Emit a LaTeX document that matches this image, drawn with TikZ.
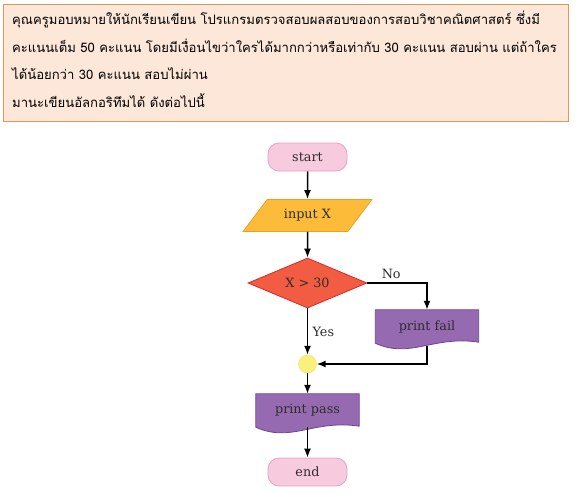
\documentclass[tikz,border=0pt]{standalone}
\usepackage{fontspec}
\setmainfont{DejaVu Serif}
\newfontfamily\thaifont[Script=Thai]{Loma}
\usetikzlibrary{shapes,arrows.meta,positioning,calc,backgrounds}
\usepackage{xcolor}

\definecolor{taskfill}{RGB}{252,231,216}
\definecolor{taskline}{RGB}{226,152,82}
\definecolor{termfill}{RGB}{247,202,222}
\definecolor{termline}{RGB}{232,162,196}
\definecolor{iofill}{RGB}{252,188,58}
\definecolor{ioline}{RGB}{234,160,40}
\definecolor{decfill}{RGB}{241,92,66}
\definecolor{decline}{RGB}{214,42,42}
\definecolor{docfill}{RGB}{150,106,176}
\definecolor{docline}{RGB}{112,66,150}
\definecolor{joinfill}{RGB}{250,240,122}
\definecolor{joinline}{RGB}{240,226,104}
\definecolor{ink}{RGB}{45,45,45}

\tikzset{
  term/.style={draw=termline, fill=termfill, rounded corners=11pt, minimum width=79pt, minimum height=28pt, line width=0.8pt},
  iobox/.style={trapezium, trapezium left angle=53, trapezium right angle=127, draw=ioline, fill=iofill, minimum width=129pt, minimum height=31pt, inner xsep=0pt, line width=0.8pt},
  decision/.style={diamond, aspect=2.4, draw=decline, fill=decfill, minimum width=119pt, minimum height=50pt, line width=0.8pt, inner sep=0pt},
  docbox/.style={rectangle, minimum width=103pt, minimum height=33pt},
  joinpt/.style={circle, draw=joinline, fill=joinfill, minimum size=18pt, inner sep=0pt},
  flow/.style={-{Latex[length=9pt,width=7pt]}, line width=1.5pt, black},
  every node/.style={font=\fontsize{12.8}{14}\selectfont, text=ink}
}

% wavy-bottom document box drawn round a named node
\newcommand{\docshape}[1]{%
  \filldraw[draw=docline, fill=docfill, line width=0.8pt]
    (#1.north west) -- (#1.north east) -- ([yshift=1pt]#1.south east)
    .. controls ($(#1.south east)+(-45,-8)$) and ($(#1.south west)+(35,16)$) .. (#1.south west) -- cycle;}

\begin{document}
\begin{tikzpicture}[x=1pt, y=-1pt]
\useasboundingbox (0,0) rectangle (581,493);

% task text
\node[draw=taskline, fill=taskfill, line width=1pt, minimum width=565pt, minimum height=117pt, inner sep=0pt] (task) at (285.5,62.5) {};
\node[anchor=north west, align=left, inner sep=0pt, font=\thaifont\fontsize{13.1}{27.5}\selectfont, text=black] (tasktext) at (12,11)
  {คุณครูมอบหมายให้นักเรียนเขียน โปรแกรมตรวจสอบผลสอบของการสอบวิชาคณิตศาสตร์ ซึ่งมี\\
   คะแนนเต็ม 50 คะแนน โดยมีเงื่อนไขว่าใครได้มากกว่าหรือเท่ากับ 30 คะแนน สอบผ่าน แต่ถ้าใคร\\
   ได้น้อยกว่า 30 คะแนน สอบไม่ผ่าน\\
   มานะเขียนอัลกอริทึมได้ ดังต่อไปนี้};

% flowchart
\node[term] (start) at (307.5,157) {start};
\node[iobox] (input) at (307.5,215.5) {input X};
\node[decision] (test) at (307.5,283) {X > 30};
\node[docbox] (fail) at (427,326.5) {print fail};
\node[joinpt] (join) at (307.5,364) {};
\node[docbox] (pass) at (307.5,410.5) {print pass};
\node[term] (end) at (307.5,472) {end};

\begin{scope}[on background layer]
  \docshape{fail}
  \docshape{pass}
\end{scope}

\draw[flow] (start) -- (input);
\draw[flow] (input) -- (test);
\draw[flow] (test.east) -| (fail.north) node[pos=0.2, above] {No};
\draw[flow] (test.south) -- (join.north) node[midway, right, xshift=1pt] {Yes};
\draw[flow] ([yshift=-3pt]fail.south) |- (join.east);
\draw[flow] (join) -- (pass.north);
\draw[flow] (pass) -- (end);
\end{tikzpicture}
\end{document}
